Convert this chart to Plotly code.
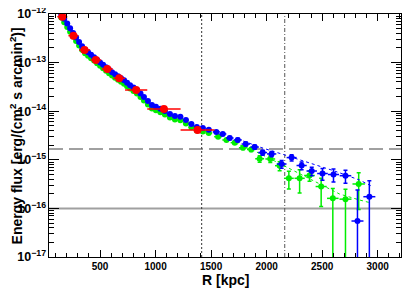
import plotly.graph_objects as go

# ---------------- data ----------------
blue_r = [150, 177, 204, 230, 257, 284, 311, 338, 365, 392, 419, 446, 473, 500, 527, 554, 581, 608,
          635, 662, 689, 716, 743, 770, 801, 832, 864, 895, 931, 967, 1003, 1043, 1084, 1129, 1174,
          1223, 1273, 1322, 1371, 1425, 1479, 1547, 1605, 1668, 1740, 1812, 1892, 1964, 2045, 2135,
          2225, 2315, 2406, 2503, 2602, 2710, 2818, 2925]
blue_f = [1.00e-12, 7.96e-13, 6.35e-13, 5.08e-13, 4.06e-13, 3.28e-13, 2.65e-13, 2.17e-13, 1.83e-13,
          1.63e-13, 1.45e-13, 1.29e-13, 1.14e-13, 1.01e-13, 9.01e-14, 8.04e-14, 7.14e-14, 6.35e-14,
          5.74e-14, 5.22e-14, 4.75e-14, 4.32e-14, 3.86e-14, 3.43e-14, 3.07e-14, 2.73e-14, 2.31e-14,
          1.96e-14, 1.62e-14, 1.34e-14, 1.24e-14, 1.12e-14, 1.01e-14, 8.76e-15, 7.96e-15, 7.67e-15,
          6.59e-15, 5.48e-15, 4.73e-15, 4.51e-15, 4.16e-15, 3.75e-15, 3.40e-15, 2.81e-15, 2.56e-15,
          2.11e-15, 1.83e-15, 1.41e-15, 1.32e-15, 8.20e-16, 1.11e-15, 7.63e-16, 5.88e-16, 5.22e-16,
          4.98e-16, 4.71e-16, 5.50e-17, 1.74e-16]
blue_rel_hi = [0.03] * 39 + [0.05, 0.05, 0.06, 0.06, 0.07, 0.08, 0.09, 0.10, 0.12, 0.12, 0.18,
                             0.15, 0.18, 0.20, 0.27, 0.30, 0.30, 3.35, 1.14]
blue_rel_lo = [0.03] * 39 + [0.05, 0.05, 0.06, 0.06, 0.07, 0.08, 0.09, 0.10, 0.12, 0.12, 0.18,
                             0.15, 0.18, 0.20, 0.27, 0.30, 0.30, 1.0, 1.0]
blue_xerr = [13] * 24 + [15, 16, 16, 17, 18, 18, 19, 20, 22, 23, 24, 25, 25, 25, 26, 27, 30,
                         32, 32, 34, 36, 38, 38, 40, 42, 44, 45, 46, 47, 48, 50, 52, 54, 54]

green_r = blue_r[:41] + [1563, 1638, 1713, 1787, 1861, 1937, 2033, 2117, 2200, 2297, 2386, 2491,
                         2596, 2710, 2829]
green_f = [8.5e-13, 6.77e-13, 5.40e-13, 4.32e-13, 3.45e-13, 2.79e-13, 2.25e-13, 1.84e-13, 1.56e-13,
           1.39e-13, 1.23e-13, 1.10e-13, 9.69e-14, 8.59e-14, 7.66e-14, 6.83e-14, 6.07e-14, 5.40e-14,
           4.88e-14, 4.44e-14, 4.04e-14, 3.67e-14, 3.28e-14, 2.92e-14, 2.61e-14, 2.32e-14, 1.96e-14,
           1.67e-14, 1.38e-14, 1.14e-14, 1.05e-14, 9.52e-15, 8.59e-15, 7.45e-15, 6.77e-15, 6.52e-15,
           5.60e-15, 4.66e-15, 4.02e-15, 3.83e-15, 3.54e-15,
           2.99e-15, 2.56e-15, 2.25e-15, 1.77e-15, 1.63e-15, 1.05e-15, 1.04e-15, 7.56e-16, 4.16e-16,
           4.16e-16, 4.75e-16, 2.82e-16, 1.61e-16, 1.55e-16, 3.18e-16]
green_rel_hi = [0.03] * 39 + [0.05, 0.05, 0.06, 0.06, 0.07, 0.08, 0.09, 0.15, 0.15, 0.21, 0.40,
                              0.50, 0.24, 0.48, 0.60, 0.60, 0.70]
green_rel_lo = [0.03] * 39 + [0.05, 0.05, 0.06, 0.06, 0.07, 0.08, 0.09, 0.15, 0.15, 0.21, 0.40,
                              0.50, 0.24, 0.61, 1.0, 1.0, 0.70]
green_xerr = [13] * 24 + [15, 16, 16, 17, 18, 18, 19, 20, 22, 23, 24, 25, 25, 25, 26, 27, 30,
                          36, 37, 37, 37, 38, 40, 44, 42, 44, 46, 48, 50, 52, 54, 56]

red_r = [160, 260, 360, 462, 565, 672, 825, 1075, 1378]
red_f = [8.8e-13, 3.58e-13, 1.82e-13, 1.13e-13, 7.4e-14, 4.75e-14, 2.73e-14, 1.11e-14, 4.1e-15]
red_xerr = [45, 45, 50, 48, 50, 52, 100, 150, 153]

blue_model_r = [1740, 1937, 2162, 2386, 2611, 2836, 2943]
blue_model_f = [2.68e-15, 1.83e-15, 1.26e-15, 8.60e-16, 5.88e-16, 3.84e-16, 2.89e-16]
green_model_r = [1713, 1892, 2072, 2252, 2449, 2656, 2836, 2943]
green_model_f = [2.22e-15, 1.52e-15, 9.45e-16, 5.88e-16, 3.49e-16, 1.98e-16, 1.49e-16, 1.29e-16]

dashed_level = 1.67e-15
solid_level = 1.0e-16
r500_line = 1415
r200_line = 2163

x_range = [40, 3210]
y_range_dec = [-17, -12]

# ---------------- figure ----------------
fig = go.Figure()

BLUE = "#0000ff"
GREEN = "#00ee00"
RED = "#ff0000"
GRAY = "#a0a0a0"

# reference lines
fig.add_trace(go.Scatter(x=x_range, y=[dashed_level, dashed_level], mode="lines",
                         line=dict(color=GRAY, width=2, dash="14px,6px"), hoverinfo="skip"))
fig.add_trace(go.Scatter(x=x_range, y=[solid_level, solid_level], mode="lines",
                         line=dict(color=GRAY, width=2), hoverinfo="skip"))
fig.add_trace(go.Scatter(x=[r500_line, r500_line], y=[1e-17, 1e-12], mode="lines",
                         line=dict(color="#333333", width=1, dash="2px,2px"), hoverinfo="skip"))
fig.add_trace(go.Scatter(x=[r200_line, r200_line], y=[1e-17, 1e-12], mode="lines",
                         line=dict(color="#555555", width=1, dash="4px,2px,1px,2px"), hoverinfo="skip"))


def pts(r, f, hi, lo, xe, color, size):
    return go.Scatter(
        x=r, y=f, mode="markers",
        marker=dict(color=color, size=size, symbol="circle", line=dict(width=0)),
        error_y=dict(type="data", symmetric=False,
                     array=[v * a for v, a in zip(f, hi)],
                     arrayminus=[v * a for v, a in zip(f, lo)],
                     color=color, thickness=1.5, width=2),
        error_x=dict(type="data", array=xe, color=color, thickness=1.5, width=0),
        hoverinfo="x+y")


fig.add_trace(go.Scatter(x=green_model_r, y=green_model_f, mode="lines",
                         line=dict(color=GREEN, width=1, dash="dot"), hoverinfo="skip"))
fig.add_trace(pts(green_r, green_f, green_rel_hi, green_rel_lo, green_xerr, GREEN, 6))
fig.add_trace(go.Scatter(x=blue_model_r, y=blue_model_f, mode="lines",
                         line=dict(color=BLUE, width=1, dash="dot"), hoverinfo="skip"))
fig.add_trace(pts(blue_r, blue_f, blue_rel_hi, blue_rel_lo, blue_xerr, BLUE, 6))
fig.add_trace(go.Scatter(
    x=red_r, y=red_f, mode="markers",
    marker=dict(color=RED, size=8, symbol="circle", line=dict(width=0)),
    error_x=dict(type="data", array=red_xerr, color=RED, thickness=1.5, width=0)))

FONT = "Liberation Sans, Arial, sans-serif"

# the page body has an 8px default margin, so the figure is 8px smaller and shifted
fig.update_layout(
    width=407, height=284,
    margin=dict(l=41, r=14, t=6, b=35, autoexpand=False),
    paper_bgcolor="white", plot_bgcolor="white",
    showlegend=False,
    font=dict(family=FONT, color="black"),
    xaxis=dict(
        range=x_range, showgrid=False, zeroline=False, automargin=False,
        showline=True, linecolor="black", linewidth=1, mirror="ticks",
        ticks="inside", ticklen=7, tickcolor="black", tick0=0, dtick=500,
        tickfont=dict(size=10, family=FONT, weight="bold"),
        ticklabeloverflow="allow",
        minor=dict(ticks="inside", ticklen=4, dtick=100, tickcolor="black", showgrid=False),
    ),
    yaxis=dict(
        type="log", range=y_range_dec, showgrid=False, zeroline=False, automargin=False,
        showline=True, linecolor="black", linewidth=1, mirror="ticks",
        ticks="inside", ticklen=10, tickcolor="black", dtick=1,
        exponentformat="power",
        tickfont=dict(size=10, family=FONT, weight="bold"),
        ticklabeloverflow="allow",
        minor=dict(ticks="inside", ticklen=5, tickcolor="black", showgrid=False),
    ),
    annotations=[
        dict(text="R [kpc]", xref="paper", yref="paper", x=0.5, y=-0.095,
             xanchor="center", yanchor="middle", showarrow=False,
             font=dict(size=14, family=FONT, weight="bold")),
        dict(text="Energy flux [erg/(cm<sup>2</sup> s arcmin<sup>2</sup>)]",
             xref="paper", yref="paper", x=-0.094, y=0.5, textangle=-90,
             xanchor="center", yanchor="middle", showarrow=False,
             font=dict(size=14, family=FONT, weight="bold")),
    ],
)

fig.write_html("out.html")
